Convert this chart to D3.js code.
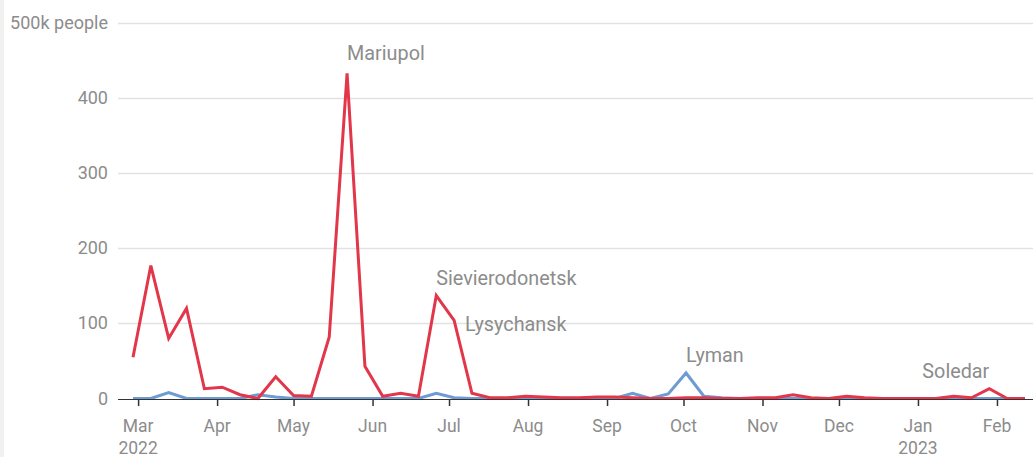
<!DOCTYPE html>
<html>
<head>
<meta charset="utf-8">
<script src="https://cdn.jsdelivr.net/npm/d3@7"></script>
<style>
  html, body { margin: 0; padding: 0; background: #fff; }
  svg { display: block; font-family: Roboto, "Noto Sans", sans-serif; }
</style>
</head>
<body>
<svg id="chart" width="1033" height="457"></svg>
<script>
// ---- Data ----
const weeks = [
  "2022-02-27","2022-03-06","2022-03-13","2022-03-20","2022-03-27","2022-04-03","2022-04-10",
  "2022-04-17","2022-04-24","2022-05-01","2022-05-08","2022-05-15","2022-05-22","2022-05-29",
  "2022-06-05","2022-06-12","2022-06-19","2022-06-26","2022-07-03","2022-07-10","2022-07-17",
  "2022-07-24","2022-07-31","2022-08-07","2022-08-14","2022-08-21","2022-08-28","2022-09-04",
  "2022-09-11","2022-09-18","2022-09-25","2022-10-02","2022-10-09","2022-10-16","2022-10-23",
  "2022-10-30","2022-11-06","2022-11-13","2022-11-20","2022-11-27","2022-12-04","2022-12-11",
  "2022-12-18","2022-12-25","2023-01-01","2023-01-08","2023-01-15","2023-01-22","2023-01-29",
  "2023-02-05","2023-02-12"
];
const redSeries = [55,177,80,120,13,15,5,0,29,4,3,82,433,43,3,7,3,137,104,7,1,1,3,2,1,1,2,2,1,0,
  0,1,1,0,0,1,1,5,1,0,3,1,0,0,0,0,3,1,13,0,0];
const blueSeries = [0,0,8,0,0,0,0,5,2,0,0,0,0,0,0,0,0,7,1,0,0,0,0,0,0,0,0,0,7,0,
  6,34,3,1,0,0,0,0,0,0,0,0,0,0,0,0,0,0,0,0,0];
const yTicks = [0,100,200,300,400,500];
const yTickLabels = ["0","100","200","300","400","500k people"];
const monthTicks = ["2022-03-01","2022-04-01","2022-05-01","2022-06-01","2022-07-01","2022-08-01",
  "2022-09-01","2022-10-01","2022-11-01","2022-12-01","2023-01-01","2023-02-01"];
const monthLabels = ["Mar","Apr","May","Jun","Jul","Aug","Sep","Oct","Nov","Dec","Jan","Feb"];
const yearLabels = ["2022","","","","","","","","","","2023",""];
const annotationNames = ["Mariupol","Sievierodonetsk","Lysychansk","Lyman","Soledar"];
const annotationWeeks = ["2022-05-22","2022-06-26","2022-07-03","2022-10-02","2023-01-29"];
const annotationSeries = ["red","red","red","blue","red"];

// ---- Layout ----
const W = 1033, H = 457;
const parse = d3.utcParse("%Y-%m-%d");
const svg = d3.select("#chart");
const gridLeft = 118, gridRight = 1033;

const x = d3.scaleUtc()
  .domain([parse(weeks[0]), parse(weeks[weeks.length - 1])])
  .range([133, 1025]);
const y = d3.scaleLinear().domain([0, 500]).range([398.5, 23]);

const textColor = "#8c8c8c";
const redColor = "#e2364a";
const blueColor = "#6e9bd2";

// left gray strip
svg.append("rect").attr("x", 0).attr("y", 0).attr("width", 4).attr("height", H).attr("fill", "#f1f1f1");

// gridlines
const grid = svg.append("g");
grid.selectAll("line").data(yTicks.filter(d => d > 0)).join("line")
  .attr("x1", gridLeft).attr("x2", gridRight)
  .attr("y1", d => Math.round(y(d)) + 0.5).attr("y2", d => Math.round(y(d)) + 0.5)
  .attr("stroke", "#e2e2e2").attr("stroke-width", 1.5);

// y labels
svg.append("g").selectAll("text").data(yTicks).join("text")
  .attr("x", 108).attr("y", d => y(d) + 6)
  .attr("text-anchor", "end")
  .attr("font-size", 18)
  .attr("fill", textColor)
  .text((d, i) => yTickLabels[i]);

// series lines
const line = d3.line().x((d, i) => x(parse(weeks[i]))).y(d => y(d));
svg.append("path").datum(blueSeries).attr("d", line)
  .attr("fill", "none").attr("stroke", blueColor).attr("stroke-width", 3)
  .attr("stroke-linejoin", "miter").attr("stroke-linecap", "butt");
svg.append("path").datum(redSeries).attr("d", line)
  .attr("fill", "none").attr("stroke", redColor).attr("stroke-width", 3)
  .attr("stroke-linejoin", "miter").attr("stroke-linecap", "butt");

// baseline axis
const xAxis = d3.axisBottom(x)
  .tickValues(monthTicks.map(parse))
  .tickSize(7)
  .tickFormat("");
const ax = svg.append("g").attr("transform", `translate(0,${Math.round(y(0))})`).call(xAxis);
ax.select(".domain").remove();
ax.selectAll(".tick line").attr("stroke", "#333").attr("stroke-width", 1.5);
svg.append("line").attr("x1", gridLeft).attr("x2", gridRight)
  .attr("y1", Math.round(y(0)) + 0.5).attr("y2", Math.round(y(0)) + 0.5)
  .attr("stroke", "#333").attr("stroke-width", 1);

// month labels
const ml = svg.append("g");
ml.selectAll("text.m").data(monthTicks).join("text").attr("class", "m")
  .attr("x", d => x(parse(d))).attr("y", 432)
  .attr("text-anchor", "middle").attr("font-size", 17.5).attr("fill", textColor)
  .text((d, i) => monthLabels[i]);
ml.selectAll("text.yr").data(monthTicks).join("text").attr("class", "yr")
  .attr("x", d => x(parse(d))).attr("y", 454)
  .attr("text-anchor", "middle").attr("font-size", 17.5).attr("fill", textColor)
  .text((d, i) => yearLabels[i]);

// annotations
const placement = {
  "Mariupol": {anchor: "start", dx: 0, dy: -13},
  "Sievierodonetsk": {anchor: "start", dx: 0, dy: -11},
  "Lysychansk": {anchor: "start", dx: 11, dy: 11},
  "Lyman": {anchor: "start", dx: 0, dy: -11},
  "Soledar": {anchor: "end", dx: 0, dy: -11}
};
svg.append("g").selectAll("text").data(annotationNames).join("text")
  .each(function(name, i) {
    const idx = weeks.indexOf(annotationWeeks[i]);
    const v = annotationSeries[i] === "red" ? redSeries[idx] : blueSeries[idx];
    const p = placement[name];
    d3.select(this)
      .attr("x", x(parse(weeks[idx])) + p.dx)
      .attr("y", y(v) + p.dy)
      .attr("text-anchor", p.anchor);
  })
  .attr("font-size", 19.8).attr("fill", textColor)
  .text(d => d);
</script>
</body>
</html>
